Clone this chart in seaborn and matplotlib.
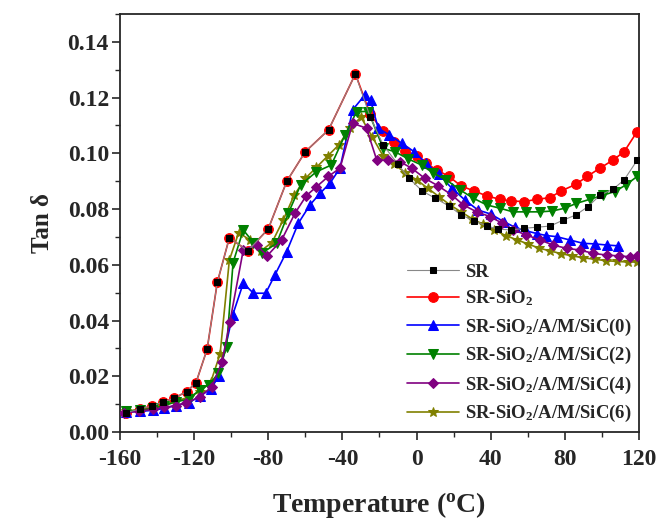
import numpy as np
import pandas as pd
import matplotlib
matplotlib.use("Agg")
import matplotlib.pyplot as plt
import seaborn as sns
from matplotlib.ticker import MultipleLocator

# ---------------- data ----------------
low_T = [-157, -149, -143, -137, -131, -124, -119, -113, -107.5, -101, -91, -80, -70, -60, -47.5, -33]
low_V = [0.0069, 0.0083, 0.0093, 0.0107, 0.0121, 0.0145, 0.0177, 0.0297, 0.0537, 0.0697,
         0.065, 0.0729, 0.090, 0.1006, 0.1084, 0.1285]

sio2_T = low_T + [-25, -18, -12, -6, 0, 5, 11, 17.5, 24, 31, 38, 45, 51, 58, 65, 72, 78, 86, 92, 99, 106, 112, 119]
sio2_V = low_V + [0.114, 0.108, 0.104, 0.101, 0.099, 0.0965, 0.094, 0.0917, 0.0883, 0.0865, 0.0847,
                  0.0835, 0.0829, 0.0827, 0.0835, 0.0841, 0.0865, 0.0889, 0.0917, 0.0947, 0.0976, 0.1006, 0.1078]

sr_T = low_T + [-25, -18, -10, -4, 3, 10, 17.5, 24, 31, 38, 44, 51, 58, 65, 72, 79, 86, 92.5, 99, 106, 112, 119]
sr_V = low_V + [0.113, 0.103, 0.096, 0.091, 0.0865, 0.0839, 0.0811, 0.0779, 0.0758, 0.0739, 0.0728,
                0.0725, 0.0731, 0.0735, 0.0739, 0.076, 0.0779, 0.0809, 0.085, 0.0871, 0.0905, 0.0975]

sic0_T = [-157, -149, -142, -136, -130, -123, -117, -111, -106.6, -99.2, -93.5, -88, -81.4, -76.4, -70.1,
          -63.8, -57.5, -52, -46.7, -41.3, -34.5, -27.8, -24.8, -20.7, -14.7, -8, -1.3, 5, 12, 19, 26,
          33, 40, 47, 53, 59, 65, 70, 75.5, 82.7, 89.9, 96.2, 102.5, 108.8]
sic0_V = [0.0072, 0.0074, 0.0078, 0.0085, 0.0095, 0.0105, 0.0128, 0.0155, 0.0201, 0.042, 0.0534, 0.0498,
          0.0498, 0.0564, 0.0647, 0.0749, 0.0815, 0.0857, 0.0893, 0.0947, 0.1156, 0.121, 0.119, 0.109,
          0.1066, 0.1036, 0.1006, 0.0965, 0.0925, 0.0875, 0.0833, 0.0797, 0.0782, 0.0755, 0.0735, 0.0722,
          0.0712, 0.0705, 0.0701, 0.0689, 0.0677, 0.0675, 0.0671, 0.0668]

sic2_T = [-157, -149, -142, -136, -130, -123, -117, -112, -107, -102.5, -99, -93.5, -88, -83.6, -75.5,
          -69.2, -62.5, -54, -46, -38.6, -32.3, -26, -18, -11.7, -4.5, 2.7, 9, 16, 23.4, 30.6, 37.8, 45,
          52, 59, 66.5, 73, 80, 86, 93.5, 100.7, 107, 113, 119]
sic2_V = [0.0075, 0.0078, 0.0085, 0.0095, 0.0108, 0.0118, 0.0151, 0.017, 0.021, 0.0306, 0.0608, 0.0725,
          0.068, 0.0641, 0.0677, 0.0785, 0.0887, 0.0934, 0.0958, 0.1066, 0.115, 0.115, 0.1018, 0.1006,
          0.098, 0.0958, 0.0929, 0.0905, 0.0869, 0.0839, 0.0815, 0.0803, 0.079, 0.079, 0.079, 0.0793,
          0.0803, 0.082, 0.0835, 0.085, 0.0863, 0.0887, 0.0917]

sic4_T = [-158, -150, -142, -136, -130, -124.4, -117, -110.5, -105, -100.7, -93.5, -86.3, -80.6, -72.8,
          -65.6, -59.5, -54, -47.6, -41.3, -34.5, -27, -21.5, -15.3, -9, -2.7, 4.5, 11.7, 18.9, 25.2,
          32.4, 39.6, 46, 52.2, 59.3, 66.5, 73.7, 80.9, 88.1, 95.3, 102.5, 109, 115, 119]
sic4_V = [0.0067, 0.0075, 0.0081, 0.0088, 0.0095, 0.0105, 0.0125, 0.0163, 0.025, 0.0396, 0.0653, 0.0671,
          0.0632, 0.0689, 0.0785, 0.0848, 0.088, 0.0917, 0.0947, 0.1108, 0.109, 0.0976, 0.0976, 0.097,
          0.0947, 0.091, 0.0883, 0.0851, 0.0815, 0.079, 0.0773, 0.075, 0.0725, 0.0707, 0.0689, 0.0671,
          0.0659, 0.0653, 0.0641, 0.0635, 0.0632, 0.0629, 0.0632]

sic6_T = [-157, -149, -142, -136, -130, -123, -117, -111, -106, -101, -96, -90, -84, -78, -72, -66, -60,
          -54, -48, -42, -36, -30, -24, -18, -12, -6, 0, 6, 12, 18, 24, 30, 36, 42, 48, 54, 60, 66, 72,
          78, 84, 90, 96, 102, 108, 114, 119]
sic6_V = [0.0075, 0.008, 0.0088, 0.0098, 0.011, 0.0125, 0.0145, 0.018, 0.028, 0.0617, 0.0715, 0.069,
          0.065, 0.068, 0.076, 0.085, 0.091, 0.095, 0.099, 0.103, 0.109, 0.113, 0.106, 0.099, 0.096,
          0.093, 0.0905, 0.0875, 0.0845, 0.0815, 0.079, 0.0765, 0.0745, 0.0725, 0.0705, 0.069, 0.0675,
          0.066, 0.065, 0.064, 0.0632, 0.0625, 0.062, 0.0615, 0.0612, 0.061, 0.061]

labels = ["SR", "SR-SiO$_2$", "SR-SiO$_2$/A/M/SiC(0)", "SR-SiO$_2$/A/M/SiC(2)",
          "SR-SiO$_2$/A/M/SiC(4)", "SR-SiO$_2$/A/M/SiC(6)"]
x_ticks = [-160, -120, -80, -40, 0, 40, 80, 120]
y_ticks = [0.00, 0.02, 0.04, 0.06, 0.08, 0.10, 0.12, 0.14]

# ---------------- style ----------------
sns.set_style("ticks")
plt.rcParams["font.family"] = ["Liberation Serif", "DejaVu Serif"]
plt.rcParams["font.weight"] = "bold"
plt.rcParams["axes.unicode_minus"] = False
plt.rcParams["mathtext.fontset"] = "custom"
plt.rcParams["mathtext.rm"] = "Liberation Serif:bold"
plt.rcParams["mathtext.it"] = "Liberation Serif:bold"
plt.rcParams["mathtext.bf"] = "Liberation Serif:bold"

fig = plt.figure(figsize=(6.62, 5.26), dpi=100)
ax = fig.add_axes([120 / 662, 1 - 432 / 526, 519 / 662, (432 - 14) / 526])

series = [
    (sr_T, sr_V, dict(color="#888888", marker="s", markersize=4.5, markerfacecolor="black",
                      markeredgecolor="black", linewidth=0.8, zorder=8)),
    (sio2_T, sio2_V, dict(color="#ff0000", marker="o", markersize=7, markeredgecolor="#ff0000",
                          linewidth=1.2, zorder=3)),
    (sic0_T, sic0_V, dict(color="#0000ff", marker="^", markersize=7, markeredgecolor="#0000ff",
                          linewidth=1.2, zorder=4)),
    (sic2_T, sic2_V, dict(color="#008000", marker="v", markersize=7, markeredgecolor="#008000",
                          linewidth=1.2, zorder=5)),
    (sic4_T, sic4_V, dict(color="#800080", marker="D", markersize=5.5, markeredgecolor="#800080",
                          linewidth=1.2, zorder=6)),
    (sic6_T, sic6_V, dict(color="#808000", marker="*", markersize=7, markeredgecolor="#808000",
                          linewidth=1.2, zorder=2)),
]

for (T, V, kw), lab in zip(series, labels):
    df = pd.DataFrame({"T": T, "V": V})
    sns.lineplot(data=df, x="T", y="V", ax=ax, label=lab, sort=False, **kw)

ax.set_xlim(-160, 120)
ax.set_ylim(0, 0.15)
ax.set_xticks(x_ticks)
ax.set_yticks(y_ticks)
ax.set_xticklabels([str(v) for v in x_ticks])
ax.set_yticklabels([f"{v:.2f}" for v in y_ticks])
ax.xaxis.set_minor_locator(MultipleLocator(20))
ax.yaxis.set_minor_locator(MultipleLocator(0.01))
ax.tick_params(which="major", direction="out", length=6, width=1.2, labelsize=17)
ax.tick_params(axis="x", which="major", pad=6)
ax.tick_params(axis="y", which="major", pad=2)
ax.tick_params(which="minor", direction="out", length=3.5, width=1.0)
for s in ax.spines.values():
    s.set_linewidth(1.3)
    s.set_visible(True)
for lab in ax.get_xticklabels() + ax.get_yticklabels():
    lab.set_fontweight("bold")

ax.set_xlabel("Temperature ($^\\mathrm{o}$C)", fontsize=20, fontweight="bold", labelpad=15)
ax.set_ylabel("Tan δ", fontsize=18, fontweight="bold", labelpad=10)

leg = ax.legend(loc="lower right", frameon=False, fontsize=13.5, handlelength=2.8,
                labelspacing=0.42, borderaxespad=0.0, handletextpad=0.3,
                bbox_to_anchor=(1.0, 0.0))
for t in leg.get_texts():
    t.set_fontweight("bold")

fig.savefig("out.png", dpi=100)
